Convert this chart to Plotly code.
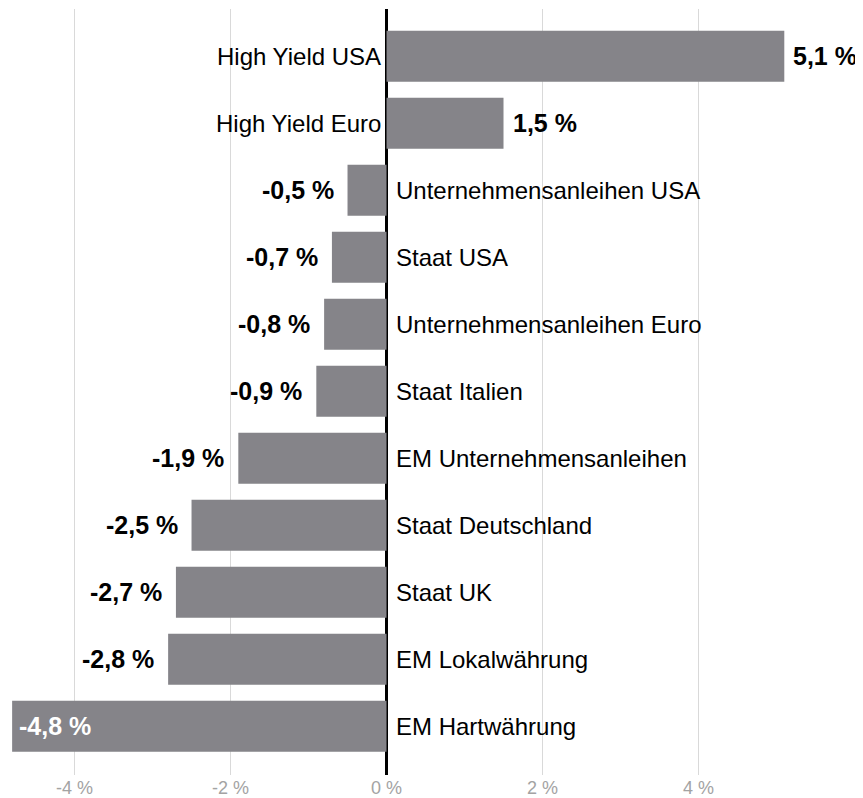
import plotly.graph_objects as go

categories = [
    "High Yield USA",
    "High Yield Euro",
    "Unternehmensanleihen USA",
    "Staat USA",
    "Unternehmensanleihen Euro",
    "Staat Italien",
    "EM Unternehmensanleihen",
    "Staat Deutschland",
    "Staat UK",
    "EM Lokalwährung",
    "EM Hartwährung",
]
values = [5.1, 1.5, -0.5, -0.7, -0.8, -0.9, -1.9, -2.5, -2.7, -2.8, -4.8]
tick_vals = [-4, -2, 0, 2, 4]
tick_text = ["-4 %", "-2 %", "0 %", "2 %", "4 %"]

FONT = "Liberation Sans, Arial, Helvetica, sans-serif"
BAR_COLOR = "#858489"


def fmt(v):
    return f"{v:.1f}".replace(".", ",") + " %"


fig = go.Figure(go.Bar(
    x=values,
    y=categories,
    orientation="h",
    marker=dict(color=BAR_COLOR, line=dict(width=0)),
    hoverinfo="skip",
))

annotations = []
for cat, v in zip(categories, values):
    # category name sits on the opposite side of the zero line
    annotations.append(dict(
        x=0, y=cat, xref="x", yref="y",
        text=cat, showarrow=False,
        xanchor="right" if v > 0 else "left",
        xshift=-4 if v > 0 else 7,
        font=dict(family=FONT, size=24, color="#000000"),
    ))
    # value label outside the bar end, inside for the longest negative bar
    if v <= -4.5:
        annotations.append(dict(
            x=v, y=cat, xref="x", yref="y",
            text="<b>" + fmt(v) + "</b>", showarrow=False,
            xanchor="left", xshift=5,
            font=dict(family=FONT, size=25, color="white"),
        ))
    else:
        annotations.append(dict(
            x=v, y=cat, xref="x", yref="y",
            text="<b>" + fmt(v) + "</b>", showarrow=False,
            xanchor="left" if v > 0 else "right",
            xshift=7 if v > 0 else -12,
            font=dict(family=FONT, size=25, color="#000000"),
        ))

# page has an 8px body margin, so the figure is sized to fit inside it
fig.update_layout(
    width=855,
    height=790,
    margin=dict(l=0, r=0, t=1, b=23),
    paper_bgcolor="white",
    plot_bgcolor="white",
    showlegend=False,
    bargap=0.24,
    annotations=annotations,
    xaxis=dict(
        range=[-4.853, 6.109],
        tickvals=tick_vals,
        ticktext=tick_text,
        showgrid=True,
        gridcolor="#d9d9d9",
        gridwidth=1,
        zeroline=True,
        zerolinecolor="#000000",
        zerolinewidth=3,
        showline=False,
        ticks="",
        tickfont=dict(family=FONT, size=18, color="#a3a3a3"),
        fixedrange=True,
    ),
    yaxis=dict(
        range=[10.727, -0.706],
        showticklabels=False,
        showgrid=False,
        zeroline=False,
        showline=False,
        ticks="",
        fixedrange=True,
    ),
)

fig.write_html("out.html")
